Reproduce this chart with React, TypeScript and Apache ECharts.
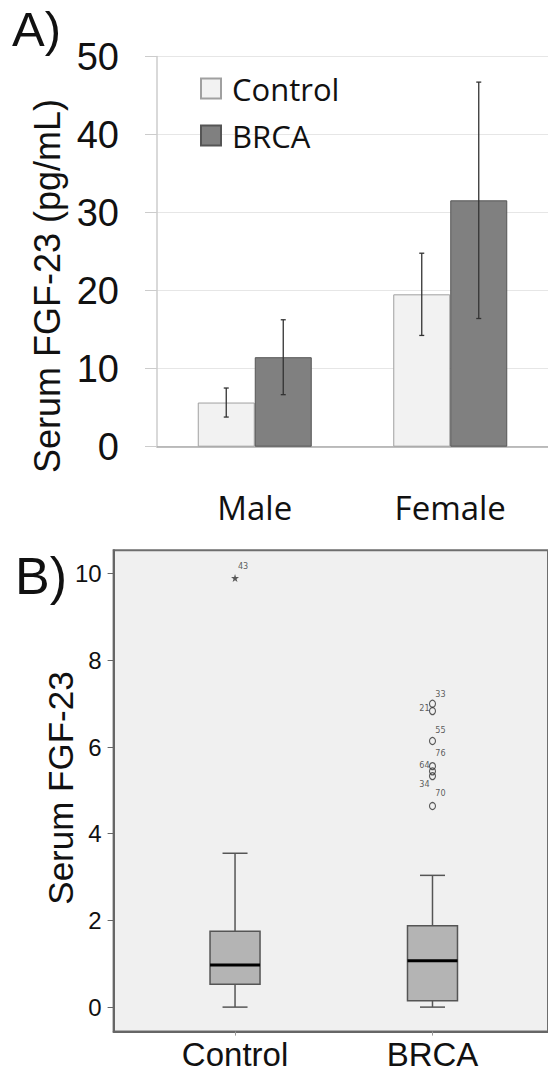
import React, { useEffect, useRef } from "react";
import * as echarts from "echarts";

// ---- Panel A data ----
const groups = ["Male", "Female"];
const seriesNames = ["Control", "BRCA"];
const controlMeans = [5.66, 19.53];
const controlErr = [1.86, 5.27];
const brcaMeans = [11.47, 31.58];
const brcaErr = [4.8, 15.15];
const yTicksA = [0, 10, 20, 30, 40, 50];

// ---- Panel B data ----
const boxCats = ["Control", "BRCA"];
const boxMin = [0, 0];
const boxQ1 = [0.53, 0.145];
const boxMedian = [0.97, 1.07];
const boxQ3 = [1.75, 1.88];
const boxMax = [3.55, 3.04];
const controlOutlierValues = [9.9];
const controlOutlierIds = ["43"];
const brcaOutlierValues = [7.0, 6.83, 6.14, 5.56, 5.44, 5.33, 4.64];
const brcaOutlierIds = ["33", "21", "55", "76", "64", "34", "70"];
const yTicksB = [0, 2, 4, 6, 8, 10];

// label placement (style)
const labelOffsets: Record<string, number[]> = {
  "43": [8, -12],
  "33": [8, -10],
  "21": [-8, -3],
  "55": [8, -11],
  "76": [8, -13],
  "64": [-8, -6],
  "34": [-8, 8],
  "70": [8, -13],
};

const ARIAL = "'Liberation Sans', Arial, sans-serif";
const OPEN = "'Open Sans', 'Noto Sans', sans-serif";

export default function App() {
  const ref = useRef<HTMLDivElement>(null);
  useEffect(() => {
    if (!ref.current) return;
    const chart = echarts.init(ref.current, null, { renderer: "svg" });

    const errData = (means: number[], errs: number[], side: number) =>
      means.map((m, i) => [i, m - errs[i], m + errs[i], side]);

    const errorRender = (params: any, api: any) => {
      const lo = api.coord([api.value(0), api.value(1)]);
      const hi = api.coord([api.value(0), api.value(2)]);
      const x = lo[0] + api.value(3) * 28.5;
      const st = { stroke: "#333", lineWidth: 1.3 };
      return {
        type: "group",
        children: [
          { type: "line", shape: { x1: x, y1: lo[1], x2: x, y2: hi[1] }, style: st },
          { type: "line", shape: { x1: x - 2.5, y1: lo[1], x2: x + 2.5, y2: lo[1] }, style: st },
          { type: "line", shape: { x1: x - 2.5, y1: hi[1], x2: x + 2.5, y2: hi[1] }, style: st },
        ],
      };
    };

    const boxRender = (params: any, api: any) => {
      const xv = api.value(0);
      const pMin = api.coord([xv, api.value(1)]);
      const pQ1 = api.coord([xv, api.value(2)]);
      const pMed = api.coord([xv, api.value(3)]);
      const pQ3 = api.coord([xv, api.value(4)]);
      const pMax = api.coord([xv, api.value(5)]);
      const cx = pMin[0];
      const hw = 25;
      const cw = 12.5;
      const ws = { stroke: "#555", lineWidth: 1.5 };
      return {
        type: "group",
        children: [
          { type: "line", shape: { x1: cx, y1: pQ3[1], x2: cx, y2: pMax[1] }, style: ws },
          { type: "line", shape: { x1: cx, y1: pQ1[1], x2: cx, y2: pMin[1] }, style: ws },
          { type: "line", shape: { x1: cx - cw, y1: pMax[1], x2: cx + cw, y2: pMax[1] }, style: ws },
          { type: "line", shape: { x1: cx - cw, y1: pMin[1], x2: cx + cw, y2: pMin[1] }, style: ws },
          {
            type: "rect",
            shape: { x: cx - hw, y: pQ3[1], width: 2 * hw, height: pQ1[1] - pQ3[1] },
            style: { fill: "#b4b4b4", stroke: "#555", lineWidth: 1.5 },
          },
          {
            type: "line",
            shape: { x1: cx - hw, y1: pMed[1], x2: cx + hw, y2: pMed[1] },
            style: { stroke: "#000", lineWidth: 3 },
          },
        ],
      };
    };

    const outlierLabel = (id: string) => ({
      show: true,
      position: "inside",
      offset: labelOffsets[id] || [8, -10],
      formatter: "{b}",
      fontSize: 9,
      fontFamily: "'DejaVu Sans Condensed', 'DejaVu Sans', sans-serif",
      color: "#333",
      align: "center",
      verticalAlign: "middle",
    });

    const starPath =
      "path://M50,0 L61,35 L98,35 L68,57 L79,91 L50,70 L21,91 L32,57 L2,35 L39,35 Z";

    const option: any = {
      animation: false,
      backgroundColor: "#ffffff",
      legend: {
        data: seriesNames,
        orient: "vertical",
        left: 195,
        top: 68,
        itemWidth: 20,
        itemHeight: 20,
        itemGap: 16,
        icon: "rect",
        textStyle: { fontSize: 31, fontFamily: OPEN, color: "#111", padding: [0, 0, 0, 6] },
      },
      grid: [
        { left: 157, top: 56.6, width: 398, height: 390.1 },
        {
          left: 113.6,
          top: 550.3,
          width: 440,
          height: 481.3,
          show: true,
          backgroundColor: "#f0f0f0",
          borderColor: "#6e6e6e",
          borderWidth: 2,
        },
      ],
      xAxis: [
        {
          type: "category",
          gridIndex: 0,
          data: groups,
          axisLine: { lineStyle: { color: "#aaaaaa", width: 1.5 } },
          axisTick: { show: false },
          axisLabel: { fontSize: 33, fontFamily: OPEN, color: "#111", margin: 44 },
        },
        {
          type: "value",
          gridIndex: 1,
          min: 0.385,
          max: 2.585,
          axisLine: { show: true, onZero: false, lineStyle: { color: "#666", width: 2 } },
          splitLine: { show: false },
          axisTick: { show: true, customValues: [1, 2], length: 4, lineStyle: { color: "#999" } },
          axisLabel: {
            customValues: [1, 2],
            formatter: (v: number) => boxCats[Math.round(v) - 1],
            fontSize: 33,
            fontFamily: ARIAL,
            color: "#111",
            margin: 6,
          },
        },
      ],
      yAxis: [
        {
          type: "value",
          gridIndex: 0,
          min: yTicksA[0],
          max: yTicksA[yTicksA.length - 1],
          interval: 10,
          axisLine: { show: true, lineStyle: { color: "#cccccc", width: 1.5 } },
          axisTick: { show: true, length: 12, lineStyle: { color: "#cccccc" } },
          splitLine: { lineStyle: { color: "#e6e6e6", width: 1 } },
          axisLabel: { fontSize: 38, fontFamily: ARIAL, color: "#111", margin: 38 },
        },
        {
          type: "value",
          gridIndex: 1,
          min: -0.565,
          max: 10.54,
          axisLine: { show: true, onZero: false, lineStyle: { color: "#666", width: 2 } },
          axisTick: { show: true, customValues: yTicksB, length: 6, lineStyle: { color: "#666" } },
          splitLine: { show: false },
          axisLabel: { customValues: yTicksB, fontSize: 24, fontFamily: ARIAL, color: "#111", margin: 12 },
        },
      ],
      graphic: [
        {
          type: "text",
          x: 12,
          y: 29,
          style: { text: "A)", fontSize: 49, fontFamily: ARIAL, fill: "#111", align: "left", verticalAlign: "middle" },
        },
        {
          type: "text",
          x: 15,
          y: 576,
          style: { text: "B)", fontSize: 52, fontFamily: ARIAL, fill: "#111", align: "left", verticalAlign: "middle" },
        },
        {
          type: "text",
          x: 47,
          y: 286,
          rotation: Math.PI / 2,
          style: {
            text: "Serum FGF-23 (pg/mL)",
            fontSize: 36,
            fontFamily: ARIAL,
            fill: "#111",
            align: "center",
            verticalAlign: "middle",
          },
        },
        {
          type: "text",
          x: 60,
          y: 788,
          rotation: Math.PI / 2,
          style: {
            text: "Serum FGF-23",
            fontSize: 35,
            fontFamily: ARIAL,
            fill: "#111",
            align: "center",
            verticalAlign: "middle",
          },
        },
      ],
      series: [
        {
          name: "Control",
          type: "bar",
          xAxisIndex: 0,
          yAxisIndex: 0,
          data: controlMeans,
          barWidth: 57,
          barGap: "0%",
          itemStyle: { color: "#f2f2f2", borderColor: "#a0a0a0", borderWidth: 1 },
        },
        {
          name: "BRCA",
          type: "bar",
          xAxisIndex: 0,
          yAxisIndex: 0,
          data: brcaMeans,
          barWidth: 57,
          barGap: "0%",
          itemStyle: { color: "#808080", borderColor: "#555555", borderWidth: 1 },
        },
        {
          type: "custom",
          xAxisIndex: 0,
          yAxisIndex: 0,
          z: 5,
          renderItem: errorRender,
          data: errData(controlMeans, controlErr, -1),
        },
        {
          type: "custom",
          xAxisIndex: 0,
          yAxisIndex: 0,
          z: 5,
          renderItem: errorRender,
          data: errData(brcaMeans, brcaErr, 1),
        },
        {
          type: "custom",
          xAxisIndex: 1,
          yAxisIndex: 1,
          renderItem: boxRender,
          data: boxCats.map((c, i) => [i + 1, boxMin[i], boxQ1[i], boxMedian[i], boxQ3[i], boxMax[i]]),
        },
        {
          type: "scatter",
          xAxisIndex: 1,
          yAxisIndex: 1,
          symbol: starPath,
          symbolSize: 8,
          itemStyle: { color: "#333" },
          data: controlOutlierValues.map((v, i) => ({
            name: controlOutlierIds[i],
            value: [1, v],
            label: outlierLabel(controlOutlierIds[i]),
          })),
        },
        {
          type: "scatter",
          xAxisIndex: 1,
          yAxisIndex: 1,
          symbol: "circle",
          symbolSize: [6, 7],
          itemStyle: { color: "rgba(0,0,0,0)", borderColor: "#333", borderWidth: 1.2 },
          data: brcaOutlierValues.map((v, i) => ({
            name: brcaOutlierIds[i],
            value: [2, v],
            label: outlierLabel(brcaOutlierIds[i]),
          })),
        },
      ],
    };
    chart.setOption(option);
    return () => chart.dispose();
  }, []);
  return (
    <div
      ref={ref}
      style={{ position: "absolute", left: 0, top: 0, width: 548, height: 1073 }}
    />
  );
}
